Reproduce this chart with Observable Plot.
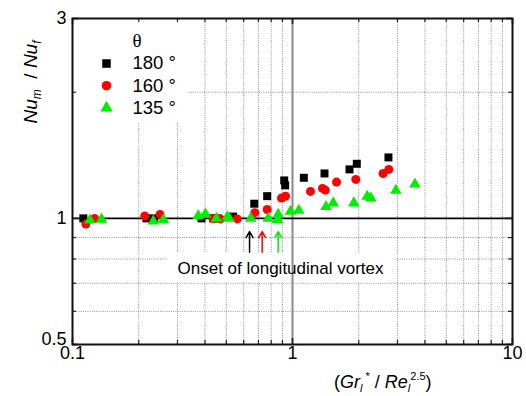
<!DOCTYPE html>
<html>
<head>
<meta charset="utf-8">
<script src="https://cdn.jsdelivr.net/npm/d3@7"></script>
<script src="https://cdn.jsdelivr.net/npm/@observablehq/plot@0.6"></script>
<style>
  html, body { margin: 0; padding: 0; background: white; }
  svg { display: block; }
</style>
</head>
<body>
<div id="chart"></div>
<script>
// ---- data ----
const x180 = [0.112, 0.217, 0.235, 0.386, 0.436, 0.456, 0.537, 0.67, 0.767, 0.917, 0.926, 1.126, 1.398, 1.816, 1.96, 2.73];
const y180 = [1.0, 1.0, 1.0, 1.0, 1.0, 1.0, 1.01, 1.084, 1.13, 1.232, 1.199, 1.25, 1.28, 1.309, 1.35, 1.398];

const x160 = [0.115, 0.126, 0.213, 0.25, 0.436, 0.47, 0.561, 0.674, 0.767, 0.891, 0.93, 1.207, 1.369, 1.41, 1.585, 1.94, 2.58, 2.74];
const y160 = [0.969, 1.0, 1.013, 1.022, 1.0, 0.997, 0.997, 1.032, 1.05, 1.118, 1.13, 1.16, 1.179, 1.168, 1.221, 1.239, 1.28, 1.309];

const x135 = [0.12, 0.1355, 0.233, 0.259, 0.373, 0.402, 0.451, 0.505, 0.516, 0.646, 0.776, 0.861, 0.855, 0.979, 1.068, 1.42, 1.532, 1.9, 2.185, 2.27, 2.95, 3.6];
const y135 = [0.99, 0.995, 0.985, 0.993, 1.015, 1.024, 1.0, 1.007, 1.0, 1.0, 1.0, 1.022, 0.993, 1.039, 1.045, 1.066, 1.088, 1.088, 1.128, 1.118, 1.166, 1.207];

const seriesLabels = ["180 °", "160 °", "135 °"];
const seriesColors = ["#000000", "#ff0000", "#00ee00"];
const seriesSymbols = ["square", "circle", "triangle"];
const seriesR = [4.5, 4.5, 4.3];

const onsetX = [0.638, 0.728, 0.861];
const onsetYFrom = 0.83;
const onsetYTo = 0.93;
const onsetText = "Onset of longitudinal vortex";

const xTicks = [0.1, 1, 10];
const yTicks = [0.5, 1, 3];
const xMinor = [0.2, 0.3, 0.4, 0.5, 0.6, 0.7, 0.8, 0.9, 2, 3, 4, 5, 6, 7, 8, 9];
const yMinor = [0.6, 0.7, 0.8, 0.9, 2];

// ---- build ----
const seriesX = [x180, x160, x135];
const seriesY = [y180, y160, y135];
const points = seriesX.map((xs, s) => xs.map((x, i) => ({x, y: seriesY[s][i], s})));

const W = 526, H = 396, mL = 72, mR = 14, mT = 18, mB = 52;
const pw = W - mL - mR, ph = H - mT - mB;

const gridStyle = {stroke: "#8f8f8f", strokeWidth: 1, strokeDasharray: "1,1.2"};

const marks = [
  // gridlines
  Plot.ruleX(xMinor, gridStyle),
  Plot.ruleY(yMinor, gridStyle),
  // white boxes behind legend and annotation
  Plot.frame({fill: "white", stroke: null, insetRight: pw - 115, insetBottom: ph - 104}),
  Plot.frame({fill: "white", stroke: null, insetLeft: 95, insetRight: 119, insetTop: 234, insetBottom: 62}),
  // reference lines
  Plot.ruleX([1], {stroke: "#8a8a8a", strokeWidth: 2}),
  Plot.ruleY([1], {stroke: "#000", strokeWidth: 1.6}),
];

[0, 1, 2].forEach(s => {
  marks.push(Plot.dot(points[s], {x: "x", y: "y", symbol: seriesSymbols[s], fill: seriesColors[s], stroke: null, r: seriesR[s]}));
});

// onset arrows
marks.push(Plot.arrow(onsetX.map((x, i) => ({x, c: seriesColors[i]})), {
  x1: "x", x2: "x", y1: () => onsetYFrom, y2: () => onsetYTo,
  stroke: "c", strokeWidth: 1.5, headLength: 7, bend: 0
}));
marks.push(Plot.text([onsetText], {frameAnchor: "bottom", dx: -12, dy: -76, lineAnchor: "middle", fontSize: 17, fill: "#000"}));

// legend
marks.push(Plot.text(["θ"], {frameAnchor: "top-left", dx: 60, dy: 22, fontSize: 19, fontFamily: "Liberation Serif, serif", lineAnchor: "middle", fill: "#000"}));
seriesLabels.forEach((lab, i) => {
  marks.push(Plot.dot([lab], {frameAnchor: "top-left", dx: 34, dy: 45 + i * 22.2, symbol: seriesSymbols[i], fill: seriesColors[i], r: seriesR[i] + 0.3}));
  marks.push(Plot.text([lab], {frameAnchor: "top-left", dx: 60, dy: 45 + i * 22.2, textAnchor: "start", lineAnchor: "middle", fontSize: 18.5, fill: "#000"}));
});

// tick marks (inward)
const tk = {stroke: "#222", strokeWidth: 1.2};
marks.push(
  Plot.ruleX(xMinor, {...tk, insetTop: ph - 4}),
  Plot.ruleX(xMinor, {...tk, insetBottom: ph - 4}),
  Plot.ruleX(xTicks, {...tk, strokeWidth: 1.6, insetTop: ph - 6}),
  Plot.ruleX(xTicks, {...tk, strokeWidth: 1.6, insetBottom: ph - 6}),
  Plot.ruleY(yMinor, {...tk, insetRight: pw - 4}),
  Plot.ruleY(yMinor, {...tk, insetLeft: pw - 4}),
  Plot.ruleY(yTicks, {...tk, strokeWidth: 1.6, insetRight: pw - 6}),
  Plot.ruleY(yTicks, {...tk, strokeWidth: 1.6, insetLeft: pw - 6}),
  Plot.frame({stroke: "#111", strokeWidth: 2}),
  Plot.axisX(xTicks, {tickSize: 0, tickPadding: 2, fontSize: 18, tickFormat: d => String(d), label: null}),
  Plot.axisY(yTicks.filter(d => d !== 0.5), {tickSize: 0, tickPadding: 6, fontSize: 18, tickFormat: d => String(d), label: null}),
  Plot.axisY(yTicks.filter(d => d === 0.5), {tickSize: 0, tickPadding: 6, dy: -5, fontSize: 18, tickFormat: d => String(d), label: null})
);

const svg = Plot.plot({
  width: W, height: H,
  marginLeft: mL, marginRight: mR, marginTop: mT, marginBottom: mB,
  x: {type: "log", domain: [0.1, 10]},
  y: {type: "log", domain: [0.5, 3]},
  style: {fontFamily: "Liberation Sans, Arial, sans-serif", color: "#000", background: "white", overflow: "visible"},
  marks
});

// axis titles with sub/superscripts
const s = d3.select(svg);
const yl = s.append("text")
  .attr("transform", "translate(37,82) rotate(-90)")
  .attr("text-anchor", "middle")
  .attr("font-family", "Liberation Sans, Arial, sans-serif")
  .attr("font-size", 19).attr("fill", "#000");
yl.append("tspan").attr("font-style", "italic").text("Nu");
yl.append("tspan").attr("font-style", "italic").attr("font-size", 12).attr("dy", 4).text("m");
yl.append("tspan").attr("dy", -4).text("  / ");
yl.append("tspan").attr("font-style", "italic").text("Nu");
yl.append("tspan").attr("font-style", "italic").attr("font-size", 12).attr("dy", 4).text("f");

const xl = s.append("text")
  .attr("x", 334).attr("y", 388)
  .attr("text-anchor", "start")
  .attr("font-family", "Liberation Sans, Arial, sans-serif")
  .attr("font-size", 18).attr("fill", "#000");
xl.append("tspan").text("(");
xl.append("tspan").attr("font-style", "italic").text("Gr");
xl.append("tspan").attr("font-style", "italic").attr("font-size", 11).attr("dy", 4).text("l");
xl.append("tspan").attr("font-size", 11).attr("dy", -12).text(" *");
xl.append("tspan").attr("dy", 8).text(" / ");
xl.append("tspan").attr("font-style", "italic").text("Re");
xl.append("tspan").attr("font-style", "italic").attr("font-size", 11).attr("dy", 4).text("l");
xl.append("tspan").attr("font-size", 11).attr("dy", -12).text("2.5");
xl.append("tspan").attr("dy", 8).text(")");

document.getElementById("chart").appendChild(svg);
</script>
</body>
</html>
